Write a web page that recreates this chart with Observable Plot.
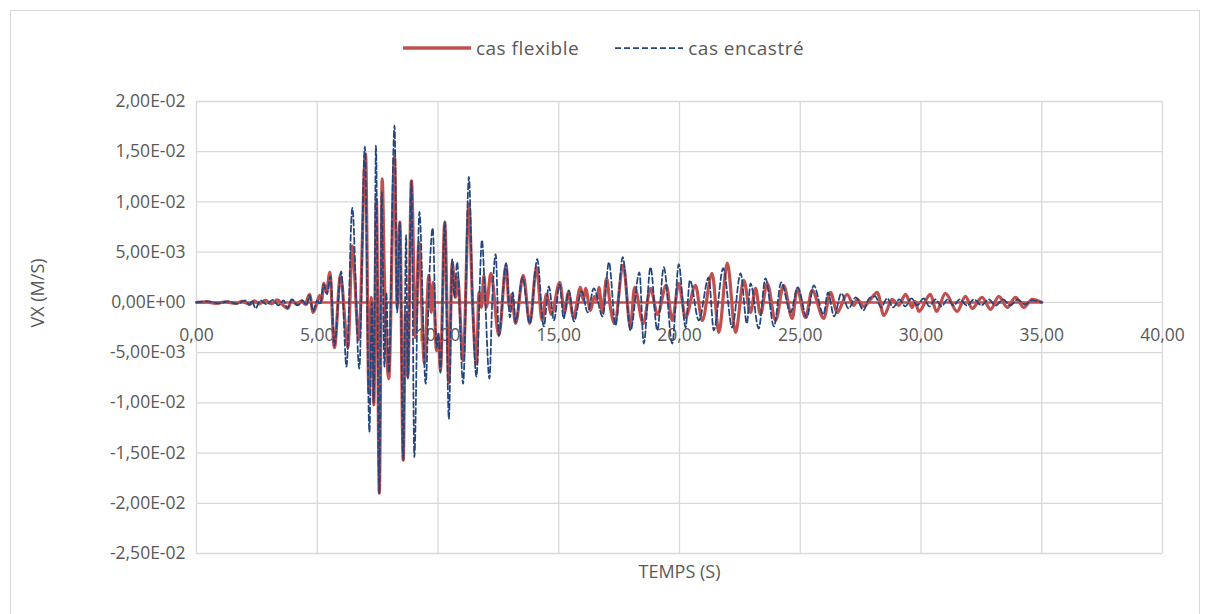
<!DOCTYPE html>
<html>
<head>
<meta charset="utf-8">
<script src="https://cdn.jsdelivr.net/npm/d3@7"></script>
<script src="https://cdn.jsdelivr.net/npm/@observablehq/plot@0.6"></script>
<style>
  html, body { margin: 0; padding: 0; background: #fff; }
  body { width: 1207px; height: 614px; position: relative; overflow: hidden; font-family: "Open Sans", sans-serif; }
  #frame { position: absolute; left: 10px; top: 10px; width: 1190px; height: 640px; border: 1.5px solid #D9D9D9; box-sizing: border-box; }
  #legend { position: absolute; left: 0; top: 34px; width: 1207px; height: 28px; display: flex; justify-content: center; align-items: center; color: #595959; font-size: 19px; letter-spacing: 0.5px; }
  #legend .item { display: flex; align-items: center; }
  #legend svg { margin-right: 5px; }
  #chart { position: absolute; left: 0; top: 80px; }
</style>
</head>
<body>
<div id="frame"></div>
<div id="legend"></div>
<div id="chart"></div>
<script>
// Series names
const seriesNames = ["cas flexible", "cas encastré"];
// Velocity values in units of 1e-3 m/s, as [time (s), value]
const flexible_mm = [
  [0,0],[0.4,0.05],[0.8,-0.1],[1.2,0.05],[1.6,-0.1],[1.9,0.1],[2.2,-0.2],[2.4,0.15],[2.6,-0.15],[2.85,0.2],
  [3.1,-0.15],[3.35,0.25],[3.55,-0.2],[3.77,-0.6],[3.95,0.2],[4.15,-0.2],[4.35,0.15],[4.5,-0.2],[4.68,0.8],[4.83,-1.0],
  [4.97,-0.2],[5.1,0.7],[5.18,0.2],[5.27,1.9],[5.38,1.0],[5.52,3.0],[5.71,-4.5],[5.96,2.7],[6.27,-4.5],[6.45,5.6],
  [6.72,-3.7],[7.0,14.8],[7.14,-9.0],[7.24,0.5],[7.34,-10.2],[7.45,10.3],[7.57,-19.0],[7.69,12.3],[7.78,2.5],[7.96,-7.6],
  [8.2,14.5],[8.31,-0.5],[8.42,8.0],[8.56,-15.7],[8.65,-1.0],[8.75,-7.4],[8.9,12.1],[9.07,-3.5],[9.21,6.0],[9.44,-6.1],
  [9.62,2.7],[9.72,-1.0],[9.8,2.0],[9.94,-4.8],[10.02,-3.5],[10.1,-6.8],[10.28,8.0],[10.45,-8.0],[10.59,4.0],[10.72,0.5],
  [10.81,2.5],[11.04,-5.8],[11.28,9.8],[11.43,0],[11.59,-6.1],[11.7,1.0],[11.8,-0.5],[11.9,2.7],[12.0,-0.5],[12.19,2.9],
  [12.52,-3.3],[12.82,3.7],[12.95,-0.5],[13.05,0.8],[13.21,-2.1],[13.53,2.7],[13.8,-2.1],[14.08,3.5],[14.31,-1.8],[14.49,0.8],
  [14.7,-1.2],[15.04,2.0],[15.24,-1.0],[15.4,1.0],[15.61,-1.5],[15.9,1.5],[16.02,0.2],[16.11,1.4],[16.31,-0.8],[16.48,0.6],
  [16.58,0.2],[16.66,1.5],[16.81,-1.0],[16.98,2.4],[17.14,-0.5],[17.31,-2.1],[17.67,3.7],[17.97,-2.5],[18.14,1.5],[18.5,-2.1],
  [18.8,1.4],[19.09,-1.2],[19.45,1.7],[19.7,-1.8],[19.97,1.9],[20.25,-1.5],[20.66,1.7],[20.94,-1.8],[21.35,2.9],[21.63,-3.0],
  [21.98,3.9],[22.32,-3.0],[22.66,2.2],[22.94,-1.0],[23.15,1.4],[23.35,-1.2],[23.63,1.9],[23.98,-1.8],[24.31,1.7],[24.67,-1.6],
  [24.87,1.3],[25.22,-1.5],[25.49,1.2],[25.97,-1.6],[26.25,1.0],[26.53,-1.0],[26.94,0.8],[27.22,-0.3],[27.36,0.3],[27.63,-0.4],
  [27.91,0.3],[28.19,1.0],[28.46,-1.3],[28.81,0.3],[29.08,-0.3],[29.36,0.8],[29.64,-0.5],[29.75,0.1],[29.91,-0.9],[30.39,0.8],
  [30.64,-0.9],[31.01,0.9],[31.5,-0.9],[31.84,0.6],[32.12,-0.6],[32.53,0.5],[32.88,-0.7],[33.22,0.6],[33.57,-0.5],[33.91,0.5],
  [34.26,-0.5],[34.6,0.3],[35.0,0]
];
const encastre_mm = [
  [0,0],[0.5,0.1],[0.9,-0.1],[1.3,0.1],[1.7,-0.15],[2.0,0.2],[2.2,-0.25],[2.3,0.2],[2.44,-0.6],[2.65,0.2],
  [2.9,-0.2],[3.15,0.25],[3.4,-0.3],[3.6,0.2],[3.77,-0.6],[3.95,0.3],[4.2,-0.3],[4.4,0.2],[4.55,-0.3],[4.68,0.7],
  [4.83,-0.9],[5.0,0.2],[5.12,-0.2],[5.27,1.8],[5.4,0.8],[5.55,2.6],[5.71,-4.3],[5.99,3.1],[6.21,-6.4],[6.45,9.4],
  [6.74,-6.6],[6.97,15.5],[7.16,-12.9],[7.26,0],[7.34,-10.0],[7.43,15.6],[7.57,-19.0],[7.67,11.0],[7.78,-6.4],[7.86,1.0],
  [7.96,-7.0],[8.2,17.6],[8.31,-1.0],[8.42,8.0],[8.56,-15.7],[8.68,6.7],[8.75,-7.6],[8.9,12.1],[9.02,-15.4],[9.23,9.0],
  [9.49,-8.1],[9.64,2.5],[9.78,7.4],[9.94,-4.5],[10.02,-3.0],[10.1,-7.0],[10.28,8.0],[10.45,-11.6],[10.59,4.3],[10.68,0.5],
  [10.79,4.0],[11.04,-8.1],[11.28,12.5],[11.43,0],[11.59,-7.4],[11.82,6.2],[11.95,0.5],[12.13,-7.6],[12.25,0.5],[12.39,4.8],
  [12.52,-3.3],[12.82,3.9],[12.98,-1.5],[13.1,1.0],[13.21,-2.0],[13.5,2.5],[13.8,-2.1],[14.11,4.3],[14.38,-2.4],[14.59,1.6],
  [14.8,-1.8],[15.04,1.8],[15.2,-1.6],[15.42,1.2],[15.63,-1.9],[15.95,1.1],[16.2,-1.0],[16.45,1.4],[16.82,-1.4],[17.08,4.0],
  [17.35,-2.3],[17.65,4.5],[17.97,-2.8],[18.34,3.0],[18.52,-4.1],[18.8,3.5],[19.08,-2.8],[19.35,3.5],[19.7,-4.1],[19.97,3.8],
  [20.25,-2.5],[20.43,2.2],[20.8,-1.8],[21.21,2.5],[21.42,-2.8],[21.81,3.4],[22.18,-2.5],[22.53,2.9],[22.79,-2.1],[22.94,1.9],
  [23.28,-2.6],[23.56,2.4],[23.91,-2.4],[24.21,2.0],[24.6,-1.0],[24.9,1.5],[25.27,-1.5],[25.56,1.7],[25.96,-1.2],[26.15,1.0],
  [26.4,-1.4],[26.7,0.9],[27.0,-0.6],[27.3,0.5],[27.62,-0.8],[27.85,0.4],[28.1,0.6],[28.35,-0.5],[28.6,0.4],[28.85,-0.5],
  [29.1,0.3],[29.35,-0.4],[29.6,0.4],[29.85,-0.3],[30.1,0.4],[30.35,-0.4],[30.6,0.3],[30.85,-0.4],[31.1,0.3],[31.35,-0.3],
  [31.6,0.3],[31.9,-0.3],[32.2,0.3],[32.5,-0.3],[32.8,0.3],[33.1,-0.3],[33.4,0.3],[33.7,-0.3],[34.0,0.3],[34.3,-0.2],
  [34.6,0.2],[35,0]
];
const xTicks = [0, 5, 10, 15, 20, 25, 30, 35, 40];
const yTicks = [-0.025, -0.02, -0.015, -0.01, -0.005, 0, 0.005, 0.01, 0.015, 0.02];
const colors = ["#C0504D", "#24467E"];

const toRows = (arr) => arr.map(([t, v]) => ({t, v: v / 1000}));
const flexRows = toRows(flexible_mm);
const encRows = toRows(encastre_mm);

const fmtX = d => d.toFixed(2).replace(".", ",");
const fmtY = v => {
  if (Math.abs(v) < 1e-12) return "0,00E+00";
  const e = Math.floor(Math.log10(Math.abs(v)) + 1e-9);
  const m = v / Math.pow(10, e);
  return m.toFixed(2).replace(".", ",") + "E" + (e < 0 ? "-" : "+") + String(Math.abs(e)).padStart(2, "0");
};

// Legend
const legend = document.getElementById("legend");
legend.innerHTML = `
  <div class="item"><svg width="68" height="10"><line x1="0" x2="68" y1="5" y2="5" stroke="${colors[0]}" stroke-width="3.5"/></svg><span>${seriesNames[0]}</span></div>
  <div class="item" style="margin-left:36px"><svg width="68" height="10"><line x1="0" x2="68" y1="5" y2="5" stroke="${colors[1]}" stroke-width="1.75" stroke-dasharray="6,3"/></svg><span>${seriesNames[1]}</span></div>`;

const chart = Plot.plot({
  width: 1207,
  height: 534,
  marginLeft: 196,
  marginRight: 45,
  marginTop: 21,
  marginBottom: 61,
  style: {fontFamily: "'Open Sans', sans-serif", fontSize: "17px", color: "#595959", background: "transparent"},
  x: {domain: [0, 40], axis: null},
  y: {domain: [-0.025, 0.02], axis: null},
  marks: [
    Plot.gridX(xTicks, {stroke: "#D9D9D9", strokeOpacity: 1, strokeWidth: 1.3}),
    Plot.gridY(yTicks, {stroke: "#D9D9D9", strokeOpacity: 1, strokeWidth: 1.3}),
    Plot.axisY(yTicks, {tickSize: 0, tickPadding: 11, tickFormat: fmtY, fontSize: 17.5, fill: "#595959", label: null}),
    Plot.text(xTicks, {x: d => d, y: 0, dy: 33, text: fmtX, fontSize: 17.5, fill: "#595959"}),
    Plot.line(flexRows, {x: "t", y: "v", stroke: colors[0], strokeWidth: 3.2, curve: "monotone-x"}),
    Plot.ruleY([0], {x1: 0, x2: 35, stroke: colors[0], strokeWidth: 2.5}),
    Plot.line(encRows, {x: "t", y: "v", stroke: colors[1], strokeWidth: 1.75, strokeDasharray: "6,3", curve: "monotone-x"}),
    Plot.text(["VX (M/S)"], {frameAnchor: "left", dx: -158, rotate: -90, fontSize: 18, fill: "#595959"}),
    Plot.text(["TEMPS (S)"], {frameAnchor: "bottom", dy: 24, fontSize: 18, fill: "#595959"})
  ]
});
document.getElementById("chart").appendChild(chart);
</script>
</body>
</html>
